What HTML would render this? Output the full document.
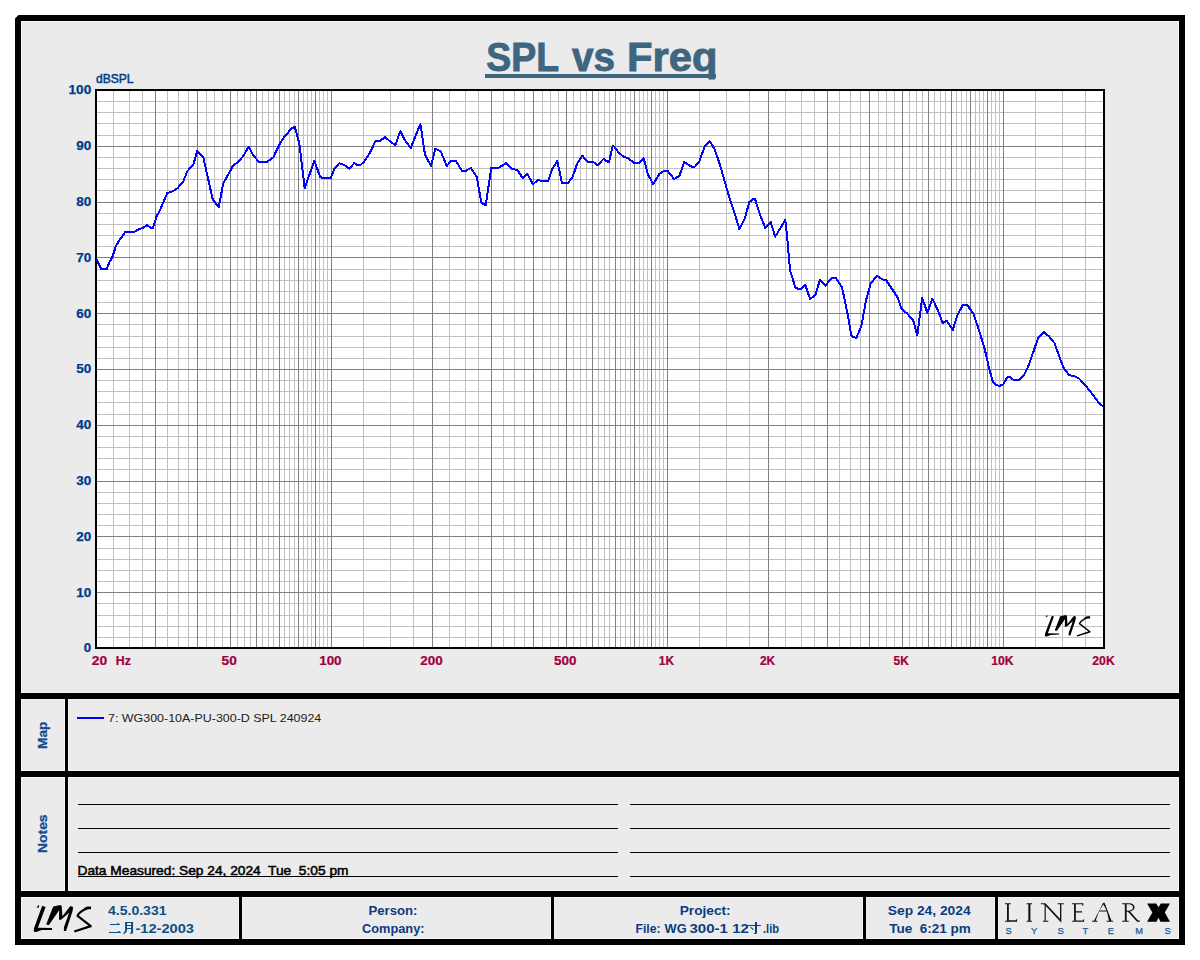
<!DOCTYPE html>
<html><head><meta charset="utf-8"><title>SPL vs Freq</title>
<style>html,body{margin:0;padding:0;background:#fff;}svg{display:block;font-family:"Liberation Sans",sans-serif;}.b{font-weight:bold}.yl{font-weight:bold;font-size:12px;fill:#003c8c;stroke:#003c8c;stroke-width:0.25px;text-anchor:end}.xl{font-weight:bold;font-size:12px;fill:#a0003c;stroke:#a0003c;stroke-width:0.2px;text-anchor:middle}.ft{font-weight:bold;font-size:12px;fill:#0a3c82}</style></head><body>
<svg width="1200" height="960" viewBox="0 0 1200 960">
<rect width="1200" height="960" fill="#fff"/>
<g shape-rendering="crispEdges">
<rect x="15" y="15" width="1170" height="930" fill="#000"/>
<rect x="21" y="21" width="1158" height="918" fill="#f5f5f5"/>
<rect x="22" y="22" width="1156" height="670" fill="#ebebeb"/>
<rect x="22" y="700" width="42" height="70" fill="#ebebeb"/>
<rect x="69" y="700" width="1109" height="70" fill="#ebebeb"/>
<rect x="22" y="778" width="42" height="112" fill="#ebebeb"/>
<rect x="69" y="778" width="1109" height="112" fill="#ebebeb"/>
<rect x="22" y="898" width="216" height="40" fill="#ebebeb"/>
<rect x="243" y="898" width="307" height="40" fill="#ebebeb"/>
<rect x="555" y="898" width="307" height="40" fill="#ebebeb"/>
<rect x="867" y="898" width="127" height="40" fill="#ebebeb"/>
<rect x="999" y="898" width="179" height="40" fill="#ebebeb"/>
<rect x="21" y="693" width="1158" height="6" fill="#000"/>
<rect x="21" y="771" width="1158" height="6" fill="#000"/>
<rect x="21" y="891" width="1158" height="6" fill="#000"/>
<rect x="65" y="699" width="3" height="192" fill="#000"/>
<rect x="239" y="897" width="3" height="42" fill="#000"/>
<rect x="551" y="897" width="3" height="42" fill="#000"/>
<rect x="863" y="897" width="3" height="42" fill="#000"/>
<rect x="995" y="897" width="3" height="42" fill="#000"/>
<path d="M15 15H18.5L15 18.5Z" fill="#fff" shape-rendering="auto"/>
<rect x="95" y="89" width="1010" height="560" fill="#000"/>
<rect x="97" y="91" width="1006" height="556" fill="#fff"/>
<path d="M113.5 91V647M129.5 91V647M142.5 91V647M167.5 91V647M178.5 91V647M188.5 91V647M206.5 91V647M214.5 91V647M222.5 91V647M237.5 91V647M244.5 91V647M250.5 91V647M262.5 91V647M268.5 91V647M273.5 91V647M284.5 91V647M289.5 91V647M294.5 91V647M303.5 91V647M307.5 91V647M311.5 91V647M319.5 91V647M323.5 91V647M327.5 91V647M363.5 91V647M390.5 91V647M413.5 91V647M449.5 91V647M465.5 91V647M478.5 91V647M503.5 91V647M514.5 91V647M524.5 91V647M542.5 91V647M550.5 91V647M558.5 91V647M573.5 91V647M580.5 91V647M586.5 91V647M598.5 91V647M604.5 91V647M609.5 91V647M620.5 91V647M625.5 91V647M630.5 91V647M639.5 91V647M643.5 91V647M647.5 91V647M655.5 91V647M659.5 91V647M663.5 91V647M699.5 91V647M726.5 91V647M749.5 91V647M785.5 91V647M801.5 91V647M814.5 91V647M839.5 91V647M850.5 91V647M860.5 91V647M878.5 91V647M886.5 91V647M894.5 91V647M909.5 91V647M916.5 91V647M922.5 91V647M934.5 91V647M940.5 91V647M945.5 91V647M956.5 91V647M961.5 91V647M966.5 91V647M975.5 91V647M979.5 91V647M983.5 91V647M991.5 91V647M995.5 91V647M999.5 91V647M1035.5 91V647M1062.5 91V647M1085.5 91V647M97 637.5H1103M97 626.5H1103M97 615.5H1103M97 603.5H1103M97 581.5H1103M97 570.5H1103M97 559.5H1103M97 548.5H1103M97 525.5H1103M97 514.5H1103M97 503.5H1103M97 492.5H1103M97 469.5H1103M97 458.5H1103M97 447.5H1103M97 436.5H1103M97 414.5H1103M97 402.5H1103M97 391.5H1103M97 380.5H1103M97 358.5H1103M97 347.5H1103M97 336.5H1103M97 324.5H1103M97 302.5H1103M97 291.5H1103M97 280.5H1103M97 269.5H1103M97 246.5H1103M97 235.5H1103M97 224.5H1103M97 213.5H1103M97 190.5H1103M97 179.5H1103M97 168.5H1103M97 157.5H1103M97 135.5H1103M97 123.5H1103M97 112.5H1103M97 101.5H1103" stroke="#c0c0c0" stroke-width="1" fill="none"/>
<path d="M155.5 91V647M197.5 91V647M230.5 91V647M256.5 91V647M279.5 91V647M298.5 91V647M315.5 91V647M331.5 91V647M432.5 91V647M491.5 91V647M533.5 91V647M566.5 91V647M592.5 91V647M615.5 91V647M634.5 91V647M651.5 91V647M667.5 91V647M768.5 91V647M827.5 91V647M869.5 91V647M902.5 91V647M928.5 91V647M951.5 91V647M970.5 91V647M987.5 91V647M1003.5 91V647M97 592.5H1103M97 536.5H1103M97 481.5H1103M97 425.5H1103M97 369.5H1103M97 313.5H1103M97 257.5H1103M97 202.5H1103M97 146.5H1103" stroke="#808080" stroke-width="1" fill="none"/>
<rect x="78" y="804" width="540" height="1" fill="#000"/>
<rect x="630" y="804" width="540" height="1" fill="#000"/>
<rect x="78" y="828" width="540" height="1" fill="#000"/>
<rect x="630" y="828" width="540" height="1" fill="#000"/>
<rect x="78" y="852" width="540" height="1" fill="#000"/>
<rect x="630" y="852" width="540" height="1" fill="#000"/>
<rect x="78" y="876" width="540" height="1" fill="#000"/>
<rect x="630" y="876" width="540" height="1" fill="#000"/>
<rect x="77" y="717" width="27" height="2" fill="#0000ff"/>
</g>
<path d="M96.7 259.7 L101.3 269.0 L106.7 269.0 L109.3 262.7 L112.7 256.0 L115.7 246.7 L118.7 241.3 L122.7 235.7 L125.3 232.0 L134.0 232.0 L138.7 229.3 L143.3 227.7 L147.0 225.0 L151.0 228.0 L153.0 227.7 L156.7 216.0 L159.7 210.7 L167.3 193.0 L172.7 191.3 L177.3 188.4 L183.3 181.3 L187.3 171.3 L193.3 164.7 L197.3 150.7 L203.3 157.3 L212.7 199.3 L218.7 207.0 L223.3 183.3 L233.3 165.3 L238.0 162.0 L243.3 156.0 L248.7 146.7 L253.3 155.3 L258.7 161.7 L267.3 161.7 L273.3 157.3 L280.0 143.3 L284.0 137.3 L291.3 128.7 L294.7 126.7 L299.3 143.3 L304.7 188.0 L314.4 160.7 L320.0 176.7 L322.0 178.0 L330.7 178.0 L334.7 168.0 L339.3 163.3 L344.0 164.7 L349.3 168.7 L354.4 163.0 L356.7 164.7 L360.7 164.7 L364.0 162.0 L370.0 152.7 L375.3 141.3 L380.0 140.7 L385.0 137.3 L395.3 145.2 L400.4 131.0 L404.7 140.0 L410.7 148.0 L420.4 124.0 L425.0 154.7 L431.0 166.0 L435.3 148.7 L440.7 151.3 L446.7 166.0 L451.0 161.0 L456.0 161.0 L462.0 171.0 L466.0 170.7 L470.7 168.0 L476.7 176.7 L481.3 202.7 L485.7 205.3 L491.3 168.0 L498.7 167.7 L506.3 163.0 L512.0 168.7 L517.3 170.0 L522.7 178.0 L527.3 173.6 L533.0 184.3 L538.0 180.0 L542.7 181.0 L548.3 180.7 L552.0 169.3 L557.3 161.0 L562.0 183.0 L568.0 183.0 L572.7 176.7 L577.3 163.3 L582.4 155.7 L587.3 161.6 L592.7 161.6 L597.6 165.3 L603.7 158.7 L606.0 161.0 L609.0 162.0 L612.7 146.0 L614.4 146.7 L618.7 152.7 L624.0 157.0 L628.0 158.0 L634.0 163.0 L639.3 163.0 L643.7 158.4 L648.0 174.7 L653.3 184.0 L659.3 174.0 L664.0 171.0 L668.0 171.3 L674.0 179.0 L679.3 176.0 L684.3 162.0 L690.7 166.4 L694.7 166.9 L699.3 161.3 L704.7 146.7 L709.6 141.0 L714.7 149.3 L720.0 165.0 L728.7 195.3 L734.7 213.3 L739.3 229.0 L744.7 218.7 L749.3 202.0 L752.7 199.3 L755.0 199.0 L760.7 216.7 L765.3 228.0 L770.7 222.0 L775.2 236.7 L785.3 220.0 L787.0 235.0 L790.0 270.0 L795.3 287.3 L798.7 289.0 L801.3 288.7 L805.3 285.0 L810.0 298.7 L815.3 295.3 L820.0 279.6 L825.3 285.7 L831.3 278.3 L836.0 278.3 L842.0 287.3 L847.3 312.3 L851.4 336.0 L856.3 338.0 L861.3 326.3 L866.0 300.4 L870.7 283.6 L876.7 275.6 L882.0 279.3 L886.0 280.0 L898.0 298.0 L901.3 308.7 L907.0 313.3 L913.3 320.7 L917.3 335.3 L922.2 298.0 L927.3 312.7 L932.4 298.7 L938.0 310.7 L942.7 323.0 L946.7 320.7 L952.7 330.0 L957.3 315.3 L962.7 305.2 L967.3 305.0 L973.3 313.7 L978.0 327.0 L984.7 349.0 L989.5 370.0 L992.7 381.3 L996.0 385.0 L999.3 386.0 L1003.3 384.3 L1007.3 377.3 L1010.0 377.0 L1013.3 379.7 L1018.7 380.0 L1024.0 375.3 L1028.7 365.3 L1033.3 352.0 L1038.4 337.3 L1043.7 332.0 L1048.7 336.0 L1054.4 343.0 L1058.7 354.7 L1063.3 367.3 L1069.3 375.3 L1074.0 376.0 L1079.3 378.7 L1085.3 385.3 L1093.3 395.3 L1098.7 402.7 L1103.3 406.7" stroke="#0000ff" stroke-width="2" fill="none" stroke-linejoin="round" stroke-linecap="butt" shape-rendering="crispEdges"/>
<g class="b" font-size="40" fill="#3e6680" stroke="#3e6680" stroke-width="0.9" lengthAdjust="spacingAndGlyphs"><text x="486.3" y="70.5" textLength="72.8" lengthAdjust="spacingAndGlyphs">SPL</text><text x="572" y="70.5" textLength="43" lengthAdjust="spacingAndGlyphs">vs</text><text x="627" y="70.5" textLength="90.5" lengthAdjust="spacingAndGlyphs">Freq</text></g>
<rect x="485" y="74" width="231" height="4" fill="#3e6680" shape-rendering="crispEdges"/>
<text x="96" y="82.5" font-size="12.3" fill="#003c8c" stroke="#003c8c" stroke-width="0.5" textLength="37.5" lengthAdjust="spacingAndGlyphs">dBSPL</text>
<text x="91.2" y="652.3" class="yl" textLength="7.4" lengthAdjust="spacingAndGlyphs">0</text>
<text x="91.2" y="596.5" class="yl" textLength="15.0" lengthAdjust="spacingAndGlyphs">10</text>
<text x="91.2" y="540.7" class="yl" textLength="15.0" lengthAdjust="spacingAndGlyphs">20</text>
<text x="91.2" y="484.9" class="yl" textLength="15.0" lengthAdjust="spacingAndGlyphs">30</text>
<text x="91.2" y="429.1" class="yl" textLength="15.0" lengthAdjust="spacingAndGlyphs">40</text>
<text x="91.2" y="373.3" class="yl" textLength="15.0" lengthAdjust="spacingAndGlyphs">50</text>
<text x="91.2" y="317.5" class="yl" textLength="15.0" lengthAdjust="spacingAndGlyphs">60</text>
<text x="91.2" y="261.7" class="yl" textLength="15.0" lengthAdjust="spacingAndGlyphs">70</text>
<text x="91.2" y="205.9" class="yl" textLength="15.0" lengthAdjust="spacingAndGlyphs">80</text>
<text x="91.2" y="150.1" class="yl" textLength="15.0" lengthAdjust="spacingAndGlyphs">90</text>
<text x="91.2" y="94.3" class="yl" textLength="22.6" lengthAdjust="spacingAndGlyphs">100</text>
<text x="91.8" y="664.6" class="xl" style="text-anchor:start" textLength="15.4" lengthAdjust="spacingAndGlyphs">20</text>
<text x="115.8" y="664.6" class="xl" style="text-anchor:start" textLength="15.2" lengthAdjust="spacingAndGlyphs">Hz</text>
<text x="229.2" y="664.6" class="xl" textLength="15.2" lengthAdjust="spacingAndGlyphs">50</text>
<text x="330.4" y="664.6" class="xl" textLength="22.4" lengthAdjust="spacingAndGlyphs">100</text>
<text x="431.5" y="664.6" class="xl" textLength="22.4" lengthAdjust="spacingAndGlyphs">200</text>
<text x="565.2" y="664.6" class="xl" textLength="22.4" lengthAdjust="spacingAndGlyphs">500</text>
<text x="666.4" y="664.6" class="xl" textLength="15.2" lengthAdjust="spacingAndGlyphs">1K</text>
<text x="767.5" y="664.6" class="xl" textLength="15.2" lengthAdjust="spacingAndGlyphs">2K</text>
<text x="901.2" y="664.6" class="xl" textLength="15.2" lengthAdjust="spacingAndGlyphs">5K</text>
<text x="1002.4" y="664.6" class="xl" textLength="22.4" lengthAdjust="spacingAndGlyphs">10K</text>
<text x="1103.5" y="664.6" class="xl" textLength="22.4" lengthAdjust="spacingAndGlyphs">20K</text>
<text transform="translate(47.2,749) rotate(-90)" class="b" font-size="12" fill="#164a92" stroke="#164a92" stroke-width="0.25" textLength="27.5" lengthAdjust="spacingAndGlyphs">Map</text>
<text transform="translate(47.2,853) rotate(-90)" class="b" font-size="12" fill="#164a92" stroke="#164a92" stroke-width="0.25" textLength="38.6" lengthAdjust="spacingAndGlyphs">Notes</text>
<text x="108" y="722" font-size="11.3" fill="#202020" textLength="213.3" lengthAdjust="spacingAndGlyphs">7: WG300-10A-PU-300-D SPL 240924</text>
<text x="77.5" y="874.5" font-size="12.6" fill="#000" stroke="#000" stroke-width="0.5" textLength="271" lengthAdjust="spacingAndGlyphs" style="white-space:pre">Data Measured: Sep 24, 2024  Tue  5:05 pm</text>
<text x="108" y="914.5" class="ft" style="fill:#0a4f86" textLength="58.5" lengthAdjust="spacingAndGlyphs">4.5.0.331</text>
<text x="135.5" y="933" class="ft" style="fill:#0a4f86" textLength="58.5" lengthAdjust="spacingAndGlyphs">-12-2003</text>
<text x="368.5" y="914.5" class="ft" textLength="49" lengthAdjust="spacingAndGlyphs">Person:</text>
<text x="362" y="932.5" class="ft" textLength="62.5" lengthAdjust="spacingAndGlyphs">Company:</text>
<text x="679.7" y="914.5" class="ft" textLength="51" lengthAdjust="spacingAndGlyphs">Project:</text>
<text x="635.5" y="932.5" class="ft" textLength="25" lengthAdjust="spacingAndGlyphs">File:</text>
<text x="664.6" y="932.5" class="ft" textLength="22" lengthAdjust="spacingAndGlyphs">WG</text>
<text x="689.4" y="932.5" class="ft" textLength="38.5" lengthAdjust="spacingAndGlyphs">300-1</text>
<text x="732.3" y="932.5" class="ft" textLength="16.5" lengthAdjust="spacingAndGlyphs">12</text>
<text x="763" y="932.5" class="ft" textLength="16" lengthAdjust="spacingAndGlyphs">.lib</text>
<text x="887.8" y="914.5" class="ft" textLength="82.8" lengthAdjust="spacingAndGlyphs">Sep 24, 2024</text>
<text x="889.2" y="932.5" class="ft" textLength="81.7" lengthAdjust="spacingAndGlyphs" style="white-space:pre">Tue  6:21 pm</text>
<g transform="translate(105,918) scale(0.03)" fill="#0a4f86"><path d="M165 200H395L405 175H460L470 200H495V235H165Z"/><path d="M130 465H425L435 440H490L500 465H530V500H130Z"/><path d="M670 135H935V490Q935 525 895 525H840L820 495H870V370H735V400Q735 480 640 530L600 510Q670 460 670 400ZM735 170V235H870V170ZM735 270V335H870V270Z" fill-rule="evenodd"/></g>
<g transform="translate(740,918) scale(0.03)" fill="#0a3c82"><path d="M270 235H500V135H565V235H695V268H565V480Q565 530 520 530H475L465 500H500V268H270Z"/><path d="M335 320L365 300L460 370L435 400Z"/></g>
<g transform="translate(30,900) scale(0.05417)" fill="#000"><path d="M148 92L168 100L160 142L125 138L128 122L145 120Z"/><path d="M225 108L288 128L146 514L405 516L405 552L215 556L118 592L72 588L72 528Z"/><path d="M298 452L428 118L560 92L585 112L598 300L745 112L795 128L788 200L665 572L625 572L628 500L722 235L575 365L535 365L538 190L350 462Z"/><path d="M1125 142C1040 140 900 225 878 292L1122 482L818 580" fill="none" stroke="#000" stroke-width="40.0" stroke-linejoin="round"/><path d="M1128 128L1060 120L990 150L1010 175L1070 165L1125 170Z"/></g>
<g transform="translate(1041.9,611.1) scale(0.04280)" fill="#000"><path d="M113 92L133 100L125 142L90 138L93 122L110 120Z"/><path d="M232 108L280 124L140 520L405 522L405 548L200 556L118 592L72 588L72 528Z"/><path d="M298 452L428 118L560 92L585 112L598 300L745 112L795 128L788 200L665 572L625 572L628 500L722 235L575 365L535 365L538 190L350 462Z"/><path d="M1125 142C1040 140 900 225 878 292L1122 482L818 580" fill="none" stroke="#000" stroke-width="34.0" stroke-linejoin="round"/><path d="M1128 128L1060 120L990 150L1010 175L1070 165L1125 170Z"/></g>
<g transform="translate(1000,898) scale(0.083333)" fill="#111">
<path d="M60 62H130V74H106V266H190L205 245V285H60V273H84V74H60Z"/>
<path d="M320 62H385V74H365V273H385V285H320V273H340V74H320Z"/>
<path d="M490 62H545L720 250V74H692V62H765V74H736V296L549 95V273H580V285H515V273H535V80L520 74H490Z"/>
<path d="M865 62H1000V92H990L985 75H910V160H985V173H910V271H995L1010 248V285H865V273H889V74H865Z"/>
</g>
<g transform="translate(1085,898) scale(0.083333)" fill="#111">
<path d="M218 58H235L318 273H336V285H260V273H288L262 162H168L128 273H150V285H85V273H108ZM172 150H258L222 78Z" fill-rule="evenodd"/>
<path d="M445 62H530Q595 65 595 112Q595 150 540 162L635 268L660 273V285H625L515 165H500V273H525V285H445V273H478V74H445ZM500 74V153H525Q575 150 575 112Q575 76 525 74Z" fill-rule="evenodd"/>
<path d="M745 65H855L882 112L910 65H1020L958 175L1020 285H905L882 238L858 285H745L808 175Z" fill="#000"/>
</g>
<text x="1008.5" y="933.8" font-size="9.3" fill="#1a5a96" stroke="#1a5a96" stroke-width="0.25" text-anchor="middle">S</text>
<text x="1034.2" y="933.8" font-size="9.3" fill="#1a5a96" stroke="#1a5a96" stroke-width="0.25" text-anchor="middle">Y</text>
<text x="1060.7" y="933.8" font-size="9.3" fill="#1a5a96" stroke="#1a5a96" stroke-width="0.25" text-anchor="middle">S</text>
<text x="1085.4" y="933.8" font-size="9.3" fill="#1a5a96" stroke="#1a5a96" stroke-width="0.25" text-anchor="middle">T</text>
<text x="1110.8" y="933.8" font-size="9.3" fill="#1a5a96" stroke="#1a5a96" stroke-width="0.25" text-anchor="middle">E</text>
<text x="1139" y="933.8" font-size="9.3" fill="#1a5a96" stroke="#1a5a96" stroke-width="0.25" text-anchor="middle">M</text>
<text x="1167.5" y="933.8" font-size="9.3" fill="#1a5a96" stroke="#1a5a96" stroke-width="0.25" text-anchor="middle">S</text>
</svg></body></html>
